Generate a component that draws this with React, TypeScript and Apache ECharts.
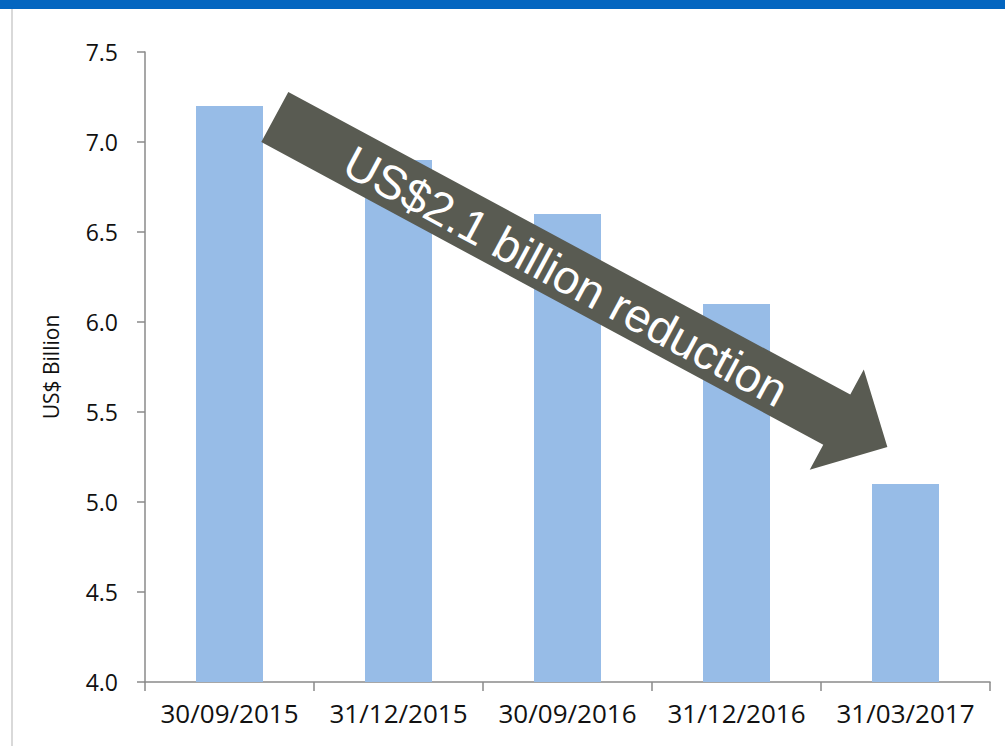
import React, { useEffect, useRef } from "react";
import * as echarts from "echarts";

const categories = ["30/09/2015", "31/12/2015", "30/09/2016", "31/12/2016", "31/03/2017"];
const debtValues = [7.2, 6.9, 6.6, 6.1, 5.1];
const yMin = 4.0;
const yMax = 7.5;
const yStep = 0.5;
const yAxisTitle = "US$ Billion";
const arrowLabel = "US$2.1 billion reduction";

export default function App() {
  const ref = useRef<HTMLDivElement>(null);

  useEffect(() => {
    if (!ref.current) return;
    const chart = echarts.init(ref.current, null, { renderer: "svg" });

    const shaftLen = 638.6;
    const headLen = 57.5;
    const halfW = 28.5;
    const headHalf = 57;
    const angle = 0.494;

    chart.setOption({
      animation: false,
      backgroundColor: "#ffffff",
      grid: { left: 145, right: 15, top: 52, bottom: 64, containLabel: false },
      xAxis: {
        type: "category",
        data: categories,
        boundaryGap: true,
        axisLine: { lineStyle: { color: "#8a8a8a", width: 1.5 } },
        axisTick: { show: true, alignWithLabel: false, length: 9, lineStyle: { color: "#8a8a8a", width: 1.5 } },
        axisLabel: {
          color: "#111",
          fontFamily: "Open Sans",
          fontSize: 26,
          margin: 18,
          interval: 0,
        },
        splitLine: { show: false },
      },
      yAxis: {
        type: "value",
        min: yMin,
        max: yMax,
        interval: yStep,
        name: yAxisTitle,
        nameLocation: "middle",
        nameRotate: 90,
        nameGap: 84,
        nameTextStyle: { color: "#111", fontFamily: "Open Sans", fontSize: 21 },
        axisLine: { show: true, lineStyle: { color: "#8a8a8a", width: 1.5 } },
        axisTick: { show: true, length: 8, lineStyle: { color: "#8a8a8a", width: 1.5 } },
        axisLabel: {
          color: "#111",
          fontFamily: "Open Sans",
          fontSize: 23,
          margin: 27,
          formatter: (v: number) => v.toFixed(1),
        },
        splitLine: { show: false },
      },
      series: [
        {
          type: "bar",
          data: debtValues,
          barWidth: 67,
          itemStyle: { color: "#97BCE7" },
        },
      ],
      graphic: [
        { type: "rect", left: 0, top: 0, shape: { x: 0, y: 0, width: 1005, height: 9 }, style: { fill: "#0466C0" }, z: 50 },
        { type: "rect", shape: { x: 11, y: 9, width: 2, height: 737 }, style: { fill: "#D9D9D9" }, z: 50 },
        {
          type: "group",
          x: 274.8,
          y: 117,
          rotation: -angle,
          z: 100,
          children: [
            {
              type: "polygon",
              shape: {
                points: [
                  [0, -halfW],
                  [shaftLen, -halfW],
                  [shaftLen, -headHalf],
                  [shaftLen + headLen, 0],
                  [shaftLen, headHalf],
                  [shaftLen, halfW],
                  [0, halfW],
                ],
              },
              style: { fill: "#595B52" },
              z: 100,
            },
            {
              type: "text",
              x: 331.7,
              y: 2,
              z: 101,
              style: {
                text: arrowLabel,
                fill: "#ffffff",
                fontSize: 47,
                fontFamily: "Liberation Sans",
                align: "center",
                verticalAlign: "middle",
              },
            },
          ],
        },
      ],
    });

    return () => chart.dispose();
  }, []);

  return (
    <div
      ref={ref}
      style={{ position: "fixed", left: 0, top: 0, width: 1005, height: 746, background: "#fff" }}
    />
  );
}
